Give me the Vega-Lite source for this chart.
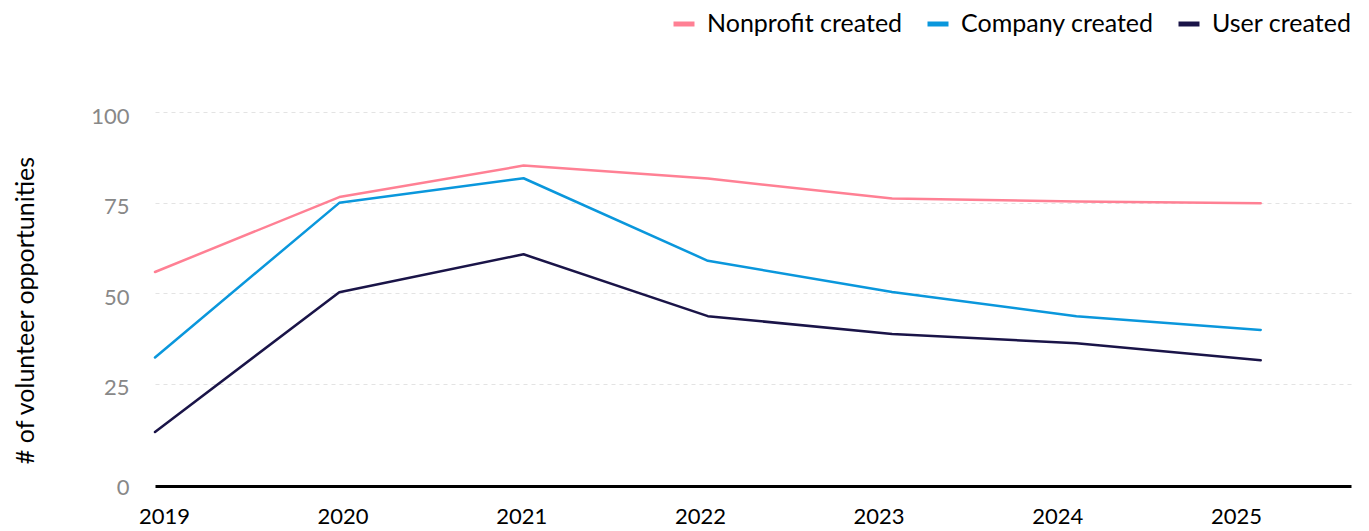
{
  "$schema": "https://vega.github.io/schema/vega-lite/v6.json",
  "width": 1196,
  "height": 362,
  "autosize": {"type": "none"},
  "padding": {"left": 155, "top": 112, "right": 18, "bottom": 57},
  "background": "white",
  "config": {
    "view": {"stroke": null},
    "font": "Lato"
  },
  "data": {
    "values": [
      {"year": 2019, "series": "Nonprofit created", "value": 55.8},
      {"year": 2020, "series": "Nonprofit created", "value": 76.5},
      {"year": 2021, "series": "Nonprofit created", "value": 85.2},
      {"year": 2022, "series": "Nonprofit created", "value": 81.6},
      {"year": 2023, "series": "Nonprofit created", "value": 76.1},
      {"year": 2024, "series": "Nonprofit created", "value": 75.3},
      {"year": 2025, "series": "Nonprofit created", "value": 74.8},
      {"year": 2019, "series": "Company created", "value": 32.2},
      {"year": 2020, "series": "Company created", "value": 74.9},
      {"year": 2021, "series": "Company created", "value": 81.7},
      {"year": 2022, "series": "Company created", "value": 58.9},
      {"year": 2023, "series": "Company created", "value": 50.3},
      {"year": 2024, "series": "Company created", "value": 43.6},
      {"year": 2025, "series": "Company created", "value": 39.8},
      {"year": 2019, "series": "User created", "value": 11.6},
      {"year": 2020, "series": "User created", "value": 50.2},
      {"year": 2021, "series": "User created", "value": 60.7},
      {"year": 2022, "series": "User created", "value": 43.6},
      {"year": 2023, "series": "User created", "value": 38.7},
      {"year": 2024, "series": "User created", "value": 36.1},
      {"year": 2025, "series": "User created", "value": 31.4}
    ]
  },
  "layer": [
    {
      "mark": {"type": "tick", "opacity": 0},
      "encoding": {
        "x": {
          "field": "year",
          "type": "quantitative",
          "scale": {"domain": [2018.95, 2025.644], "nice": false, "zero": false},
          "axis": {
            "title": null,
            "values": [2019, 2020, 2021, 2022, 2023, 2024, 2025],
            "format": "d",
            "grid": false,
            "ticks": false,
            "domain": true,
            "domainColor": "#000000",
            "domainWidth": 3,
            "offset": 12,
            "labelFont": "Lato",
            "labelFontSize": 22,
            "labelColor": "#000000",
            "labelPadding": 20,
            "labelFlush": false,
            "labelOverlap": false
          }
        },
        "y": {
          "field": "value",
          "type": "quantitative",
          "scale": {"domain": [0, 100], "nice": false},
          "axis": {
            "title": "# of volunteer opportunities",
            "values": [0, 25, 50, 75, 100],
            "domain": false,
            "ticks": false,
            "grid": true,
            "gridColor": "#e3e3e3",
            "gridDash": [4, 4],
            "gridWidth": 1,
            "gridOpacity": {"condition": {"test": "datum.value === 0", "value": 0}, "value": 1},
            "labelFont": "Lato",
            "labelFontSize": 22,
            "labelColor": "#888888",
            "labelPadding": 26,
            "labelOffset": {"condition": {"test": "datum.value === 0", "value": 13}, "value": 4},
            "titleFont": "Lato",
            "titleFontSize": 25,
            "titleFontWeight": "normal",
            "titleColor": "#000000",
            "titleAngle": -90,
            "titleAlign": "center",
            "titleBaseline": "middle",
            "titleX": -130,
            "titleY": 198
          }
        }
      }
    },
    {
      "mark": {"type": "line", "strokeWidth": 2.5, "strokeCap": "round", "strokeJoin": "round"},
      "encoding": {
        "x": {
          "field": "year",
          "type": "quantitative",
          "scale": {"domain": [2019, 2025.49], "nice": false, "zero": false},
          "axis": null
        },
        "y": {
          "field": "value",
          "type": "quantitative",
          "scale": {"domain": [0, 100], "nice": false}
        },
        "color": {
          "field": "series",
          "type": "nominal",
          "scale": {
            "domain": ["Nonprofit created", "Company created", "User created"],
            "range": ["#ff8094", "#0a97dc", "#1a1448"]
          },
          "legend": {
            "title": null,
            "orient": "none",
            "direction": "horizontal",
            "legendX": 516,
            "legendY": -101,
            "symbolType": "stroke",
            "symbolSize": 441,
            "symbolStrokeWidth": 5,
            "labelFont": "Lato",
            "labelFontSize": 25,
            "labelLimit": 0,
            "labelColor": "#000000",
            "labelOffset": 10,
            "columnPadding": 14,
            "padding": 0
          }
        }
      }
    }
  ],
  "resolve": {"scale": {"x": "independent"}}
}
